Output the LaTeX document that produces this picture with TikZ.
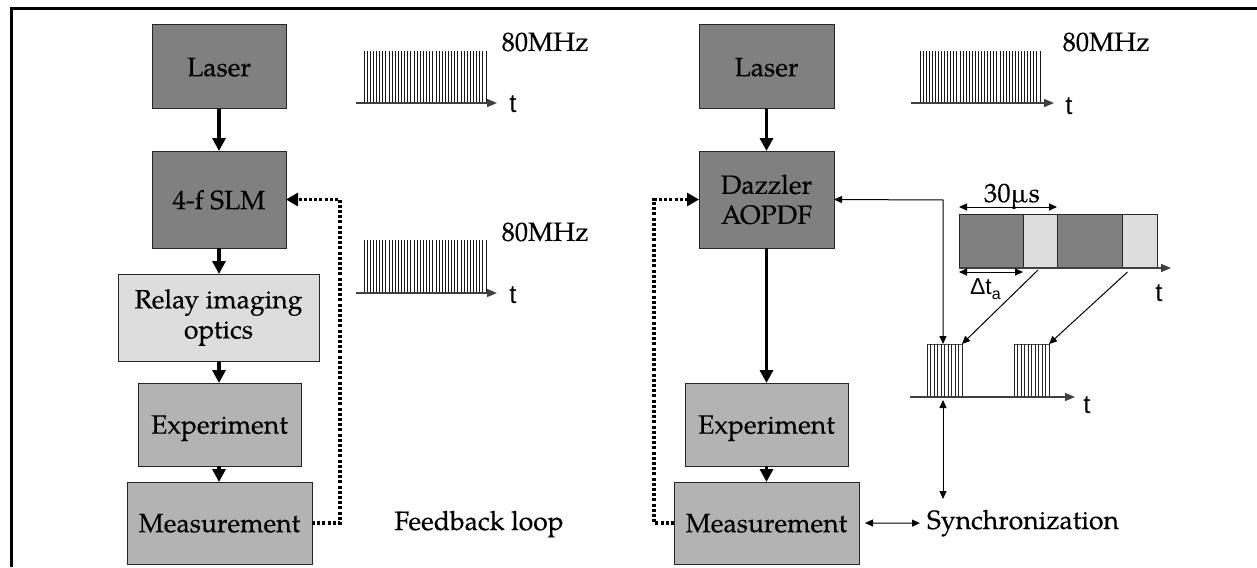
\documentclass[tikz,border=0pt]{standalone}
\usepackage{fontspec}
\setmainfont{TeX Gyre Pagella}[FakeBold=0.35]
\newfontfamily\sansf{Liberation Sans}
\usetikzlibrary{arrows.meta,calc}
\definecolor{boxdark}{HTML}{808080}
\definecolor{boxmid}{HTML}{B3B3B3}
\definecolor{boxlight}{HTML}{DDDDDD}
\begin{document}
\begin{tikzpicture}[x=1pt,y=-1pt,
  every node/.style={inner sep=0pt, outer sep=0pt},
  lbl/.style={font=\fontsize{26.5}{30}\selectfont},
  tlbl/.style={font=\sansf\fontsize{26}{26}\selectfont},
  box/.style={draw=black!85, line width=1pt, align=center, font=\fontsize{26.5}{30}\selectfont},
  darkb/.style={box, fill=boxdark},
  midb/.style={box, fill=boxmid},
  lightb/.style={box, fill=boxlight},
  one/.style={text depth=0pt},
  flow/.style={line width=3.2pt, -{Triangle[length=13pt,width=13pt]}},
  fbline/.style={line width=3.2pt, dash pattern=on 3pt off 2.2pt, -{Triangle[length=12pt,width=13pt]}},
  sig/.style={line width=1pt, -{Triangle[length=8pt,width=7pt]}},
  sigboth/.style={line width=1pt, {Triangle[length=8pt,width=7pt]}-{Triangle[length=8pt,width=7pt]}},
  timeaxis/.style={line width=1.4pt, draw=black!75, -{Triangle[length=10pt,width=8pt]}},
  pulseline/.style={line width=0.9pt, draw=black!90},
  packet/.style={draw=black!70, line width=0.9pt, fill=white},
  stripe/.style={line width=0.9pt, draw=black!85},
  seg/.style={draw=black!85, line width=1pt, minimum height=54pt}
]
\useasboundingbox (0,0) rectangle (1257,567);
% frame
\draw[line width=3pt] (11,567) -- (11,9) -- (1257,9);

% ---------- left column ----------
\node[darkb, one, minimum width=134pt, minimum height=84pt] (L1) at (219,67) {Laser};
\node[darkb, one, minimum width=134pt, minimum height=97pt] (S1) at (219,199.5) {4-f SLM};
\node[lightb, minimum width=201pt, minimum height=87pt] (R1) at (218.5,317.5) {Relay imaging\\optics};
\node[midb, one, minimum width=163pt, minimum height=83pt] (E1) at (219.5,424.5) {Experiment};
\node[midb, one, minimum width=185pt, minimum height=82pt] (M1) at (219.5,523) {Measurement};

\draw[flow] (L1.south) -- (L1.south |- S1.north);
\draw[flow] (S1.south) -- (S1.south |- R1.north);
\draw[flow] (S1.south |- R1.south) -- (S1.south |- E1.north);
\draw[flow] (S1.south |- E1.south) -- (S1.south |- M1.north);

\coordinate (fb1) at (340,523);
\draw[fbline] (M1.east) -- (fb1) -- (fb1 |- S1.east) -- (S1.east);
\node[lbl, anchor=base] (fbl) at (479,530) {Feedback loop};

% pulse trains (left)
\foreach \k in {0,...,39} \draw[pulseline] ({364+\k*122/39},103) -- ++(0,-52);
\draw[timeaxis] (356,103) -- (497,103);
\node[tlbl] (t1) at (513,104) {t};
\node[lbl] (f1) at (545,42) {80MHz};

\foreach \k in {0,...,39} \draw[pulseline] ({364+\k*122/39},293) -- ++(0,-53);
\draw[timeaxis] (356,293) -- (497,293);
\node[tlbl] (t2) at (513,295) {t};
\node[lbl] (f2) at (545,232) {80MHz};

% ---------- right column ----------
\node[darkb, one, minimum width=135pt, minimum height=84pt] (L2) at (766.5,67) {Laser};
\node[darkb, minimum width=135pt, minimum height=97pt] (D2) at (766.5,199.5) {Dazzler\\AOPDF};
\node[midb, one, minimum width=163pt, minimum height=83pt] (E2) at (766.5,424.5) {Experiment};
\node[midb, one, minimum width=185pt, minimum height=82pt] (M2) at (766.5,523) {Measurement};

\draw[flow] (L2.south) -- (L2.south |- D2.north);
\draw[flow] (D2.south) -- (D2.south |- E2.north);
\draw[flow] (E2.south) -- (E2.south |- M2.north);

\coordinate (fb2) at (654,523);
\draw[fbline] (M2.west) -- (fb2) -- (fb2 |- D2.west) -- (D2.west);

% right top pulse train
\foreach \k in {0,...,39} \draw[pulseline] ({920+\k*120/39},103) -- ++(0,-52);
\draw[timeaxis] (911,103) -- (1054,103);
\node[tlbl] (t3) at (1069,106) {t};
\node[lbl] (f3) at (1106,42) {80MHz};

% AOPDF timing bar
\node[seg, fill=boxdark, minimum width=64pt] (b1) at (991,241) {};
\node[seg, fill=boxlight, minimum width=34pt] (b2) at (1040,241) {};
\node[seg, fill=boxdark, minimum width=65pt] (b3) at (1089.5,241) {};
\node[seg, fill=boxlight, minimum width=35pt] (b4) at (1139.5,241) {};
\draw[timeaxis] (b1.south west) -- (1171,268);
\node[tlbl] (t4) at (1159,293) {t};
\draw[sigboth] (959,207) -- (1057,207);
\node[lbl, anchor=base] (d30) at (1012,202) {30µs};
\draw[sigboth] (959,272) -- (1023,272);
\node[anchor=base west, font=\sansf\fontsize{23}{23}\selectfont] (dta) at (970,294) {Δt\raisebox{-5pt}{\fontsize{16}{16}\selectfont a}};

% pulse packets
\node[packet, minimum width=35pt, minimum height=53pt] (P1) at (944.5,370.5) {};
\node[packet, minimum width=35pt, minimum height=53pt] (P2) at (1031.5,370.5) {};
\foreach \k in {0,...,10} {
  \draw[stripe] ($(P1.south west)+(\k*3.5,0)$) -- ($(P1.north west)+(\k*3.5,0)$);
  \draw[stripe] ($(P2.south west)+(\k*3.5,0)$) -- ($(P2.north west)+(\k*3.5,0)$);
}
\draw[timeaxis] (910,397) -- (1075,397);
\node[tlbl] (t5) at (1087,405) {t};

\draw[sig] ([xshift=-2pt,yshift=-2pt]b2.south) -- (P1.north east);
\draw[sig] ([xshift=-12pt,yshift=-4pt]b4.south) -- (P2.north east);

% AOPDF trigger and synchronization
\coordinate (c1) at (943,200);
\draw[sigboth] (D2.east) -- (c1) -- (c1 |- P1.north);
\node[lbl, anchor=base west] (sync) at (927,529) {Synchronization};
\coordinate (v1) at (943,400);
\coordinate (v2) at (943,499);
\draw[sigboth] (v1) -- (v2);
\draw[sigboth] ([xshift=6pt]M2.east) -- ([xshift=-7pt]sync.west);
\end{tikzpicture}
\end{document}
